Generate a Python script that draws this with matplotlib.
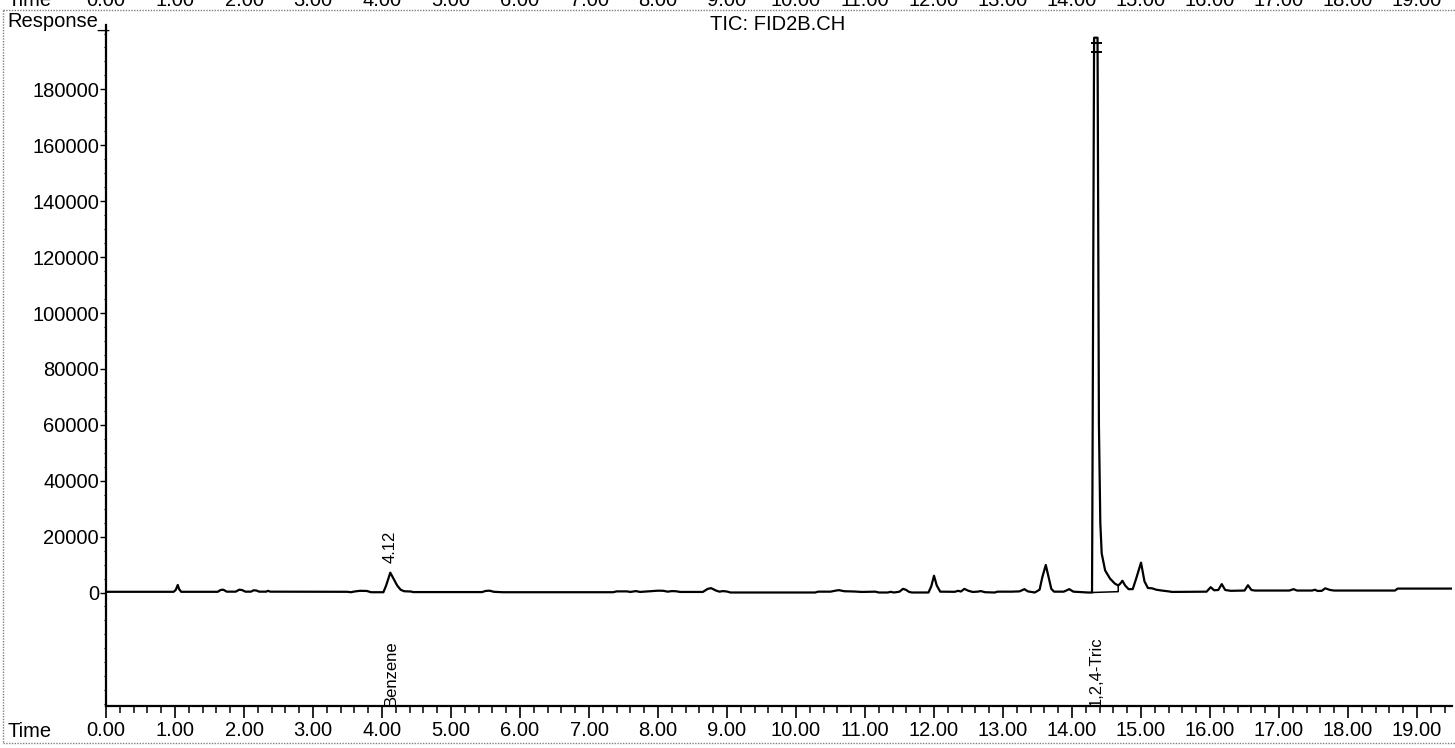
import numpy as np
import matplotlib
matplotlib.use("Agg")
import matplotlib.pyplot as plt
import matplotlib.transforms as mtransforms
from matplotlib.ticker import FixedLocator, MultipleLocator, NullFormatter
from matplotlib.lines import Line2D

plt.rcParams["font.family"] = ["Liberation Sans", "DejaVu Sans"]

# ---------------- data ----------------
time_min = [
    0.00, 0.98, 1.01, 1.04, 1.06, 1.09, 1.62, 1.66, 1.70, 1.75,
    1.88, 1.93, 1.97, 2.02, 2.10, 2.14, 2.18, 2.22, 2.32, 2.35,
    2.38, 3.50, 3.55, 3.60, 3.68, 3.78, 3.84, 4.02, 4.06, 4.12,
    4.17, 4.22, 4.27, 4.32, 4.42, 4.45, 5.45, 5.50, 5.56, 5.62,
    5.75, 7.35, 7.40, 7.55, 7.60, 7.68, 7.74, 7.85, 8.00, 8.08,
    8.14, 8.20, 8.26, 8.32, 8.65, 8.72, 8.77, 8.84, 8.89, 8.94,
    9.00, 9.05, 10.28, 10.32, 10.50, 10.56, 10.62, 10.70, 10.85, 10.95,
    11.15, 11.20, 11.33, 11.37, 11.42, 11.50, 11.55, 11.59, 11.64, 11.68,
    11.92, 11.96, 12.00, 12.04, 12.09, 12.30, 12.35, 12.39, 12.44, 12.50,
    12.56, 12.63, 12.68, 12.74, 12.88, 12.92, 13.12, 13.24, 13.31, 13.36,
    13.46, 13.53, 13.57, 13.62, 13.66, 13.70, 13.74, 13.88, 13.96, 14.02,
    14.23, 14.29, 14.295, 14.32, 14.37, 14.39, 14.41, 14.43, 14.48, 14.55,
    14.62, 14.67, 14.70, 14.73, 14.77, 14.82, 14.88, 14.93, 15.00, 15.05,
    15.10, 15.16, 15.22, 15.30, 15.40, 15.45, 15.95, 16.01, 16.06, 16.12,
    16.17, 16.22, 16.30, 16.50, 16.55, 16.60, 16.65, 17.15, 17.21, 17.26,
    17.48, 17.52, 17.56, 17.62, 17.67, 17.74, 17.80, 18.68, 18.72, 19.51,
]
response = [
    250, 250, 900, 2700, 1200, 250, 250, 900, 1000, 300,
    300, 1000, 900, 300, 300, 800, 700, 300, 300, 600,
    300, 250, 100, 350, 600, 550, 100, 100, 2500, 7100,
    4800, 2500, 1000, 450, 350, 150, 150, 550, 650, 250,
    100, 100, 400, 400, 200, 500, 200, 400, 650, 600,
    300, 500, 450, 200, 200, 1300, 1550, 700, 300, 500,
    350, 0, 0, 300, 300, 600, 850, 450, 350, 200,
    300, 0, 0, 250, 0, 300, 1300, 1000, 200, 0,
    0, 2200, 6000, 2500, 300, 250, 600, 350, 1300, 600,
    200, 300, 500, 100, 0, 300, 300, 400, 1200, 400,
    0, 1000, 5500, 9850, 5500, 1300, 300, 300, 1200, 300,
    0, 0, 30000, 198500, 198500, 60000, 25000, 14000, 7900, 5000,
    3200, 2500, 3200, 4200, 2500, 1200, 1200, 5000, 10700, 4000,
    1600, 1500, 1000, 700, 400, 200, 300, 1900, 800, 900,
    3000, 900, 600, 700, 2600, 900, 700, 700, 1200, 700,
    700, 1000, 550, 600, 1500, 900, 700, 700, 1400, 1400,
]
x_ticks = [float(v) for v in range(0, 20)]
y_ticks = list(range(0, 180001, 20000))
peak_label_time = [4.12]
peak_label_text = ["4.12"]
compound_time = [4.13, 14.35]
compound_name = ["Benzene", "1,2,4-Tric"]
integration_window = [14.29, 14.67]

# ---------------- layout ----------------
W, H = 1455, 748
fig = plt.figure(figsize=(W / 100, H / 100), dpi=100)
fig.patch.set_facecolor("white")


def fx(px):
    return px / W


def fy(py):
    return 1 - py / H


FS = 14.5

ax = fig.add_axes([fx(106), fy(706), fx(1452) - fx(106), fy(25) - fy(706)])
ax.set_facecolor("white")

ax.plot(time_min, response, color="black", lw=1.6, solid_joinstyle="round")

ax.set_xlim(0, 19.507)
ax.set_ylim(-40610, 203050)

for s in ("top", "right"):
    ax.spines[s].set_visible(False)
for s in ("left", "bottom"):
    ax.spines[s].set_linewidth(1.6)

ax.xaxis.set_major_locator(FixedLocator(x_ticks))
ax.set_xticklabels([f"{v:.2f}" for v in x_ticks])
ax.xaxis.set_minor_locator(MultipleLocator(0.2))
ax.tick_params(axis="x", which="major", direction="out", length=8.5, width=1.2,
               pad=2.0, labelsize=FS)
ax.tick_params(axis="x", which="minor", direction="out", length=5, width=1.1)

ax.yaxis.set_major_locator(FixedLocator(y_ticks))
ax.set_yticklabels([str(v) for v in y_ticks])
ax.yaxis.set_minor_locator(MultipleLocator(5000))
ax.yaxis.set_minor_formatter(NullFormatter())
ax.tick_params(axis="y", which="major", direction="out", length=4.5, width=1.0,
               pad=0.5, labelsize=FS)
ax.tick_params(axis="y", which="minor", direction="out", length=1.8, width=0.8)

# off-scale marker on the main peak
rmax = max(response)
apex_times = [t for t, r in zip(time_min, response) if r == rmax]
t_apex = sum(apex_times) / len(apex_times)
ax.hlines([rmax - 1800, rmax - 5000], t_apex - 0.075, t_apex + 0.09,
          color="black", lw=1.4)

# integration baseline + drop line of the main peak
t0, t1 = integration_window
r0 = float(np.interp(t0, time_min, response))
r1 = float(np.interp(t1, time_min, response))
ax.plot([t0, t1, t1], [r0, r0 + 300, r1], color="black", lw=1.1)

# peak retention-time label
for t, lab in zip(peak_label_time, peak_label_text):
    r = float(np.interp(t, time_min, response))
    ax.annotate(lab, xy=(t, r), xytext=(0, 7), textcoords="offset points",
                rotation=90, ha="center", va="bottom", fontsize=12)

# compound names on the axis
ybot = ax.get_ylim()[0]
for t, name in zip(compound_time, compound_name):
    ax.text(t, ybot, name, rotation=90, ha="center", va="bottom", fontsize=12)

# texts around
fig.text(fx(7), fy(27), "Response_", fontsize=FS, ha="left", va="baseline")
fig.text(fx(778), fy(30), "TIC: FID2B.CH", ha="center", va="baseline", fontsize=FS)
fig.text(fx(7), fy(737), "Time", fontsize=FS, ha="left", va="baseline")

# cut-off axis row from the previous page at the very top
blend = mtransforms.blended_transform_factory(ax.transData, fig.transFigure)
for v in x_ticks:
    ax.text(v, fy(6.5), f"{v:.2f}", transform=blend, ha="center", va="baseline",
            fontsize=FS, clip_on=False)
fig.text(fx(7), fy(6.5), "Time", fontsize=FS, ha="left", va="baseline")

# dotted scan frame
frame_kw = dict(transform=fig.transFigure, color="#808080", lw=1.0, ls=(0, (1, 1)))
fig.add_artist(Line2D([fx(3), 1.0], [fy(9.5), fy(9.5)], **frame_kw))
fig.add_artist(Line2D([fx(3), fx(3)], [fy(9.5), fy(743)], **frame_kw))
fig.add_artist(Line2D([fx(3), 1.0], [fy(743), fy(743)], **frame_kw))

fig.savefig("out.png", dpi=100, facecolor="white")
